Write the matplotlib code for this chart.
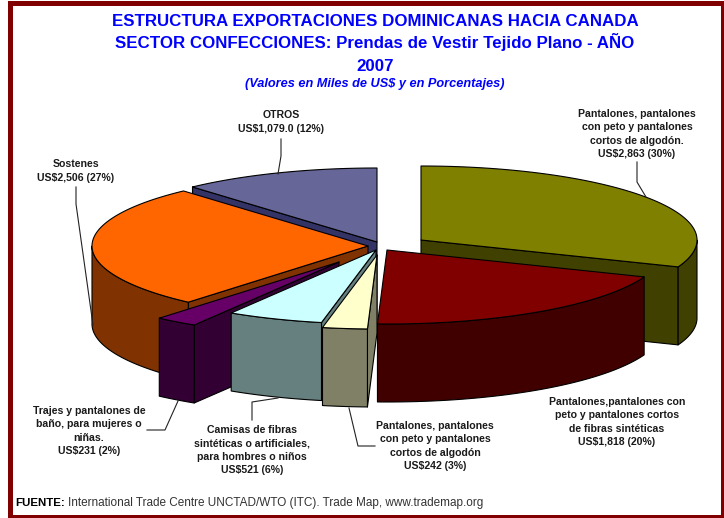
import numpy as np
import matplotlib
matplotlib.use("Agg")
import matplotlib.pyplot as plt
from matplotlib.patches import Polygon, Rectangle

plt.rcParams['font.family'] = ['Liberation Sans', 'DejaVu Sans']

# valores en miles de US$, en sentido horario desde las 12
valores = [2863, 1818, 242, 521, 231, 2506, 1079]
etiquetas = [
    "Pantalones, pantalones\ncon peto y pantalones\ncortos de algodón.\nUS$2,863 (30%)",
    "Pantalones,pantalones con\npeto y pantalones cortos\nde fibras sintéticas\nUS$1,818 (20%)",
    "Pantalones, pantalones\ncon peto y pantalones\ncortos de algodón\nUS$242 (3%)",
    "Camisas de fibras\nsintéticas o artificiales,\npara hombres o niños\nUS$521 (6%)",
    "Trajes y pantalones de\nbaño, para mujeres o\nniñas.\nUS$231 (2%)",
    "Sostenes\nUS$2,506 (27%)",
    "OTROS\nUS$1,079.0 (12%)",
]
titulo = ["ESTRUCTURA EXPORTACIONES DOMINICANAS HACIA CANADA",
          "SECTOR CONFECCIONES: Prendas de Vestir Tejido Plano - AÑO",
          "2007"]
subtitulo = "(Valores en Miles de US$ y en Porcentajes)"

colores = ["#808000", "#800000", "#FFFFCC", "#CCFFFF", "#660066", "#FF6600", "#666699"]
laterales = ["#404000", "#400000", "#808066", "#668080", "#330033", "#803300", "#333366"]
# vértice de cada porción (con el desplazamiento de la explosión)
centros = [(421, 240), (387, 250), (377, 255), (376, 250), (339, 262), (368, 246), (377, 242)]
pos_etiqueta = [(637, 134), (617, 422), (435, 446), (252, 450), (89, 431), (76, 171), (281, 122)]
guias = [
    [(637, 162), (637, 182), (646, 197)],
    [],
    [(349, 408), (358, 446), (375, 446)],
    [(252, 420), (252, 402), (278, 398)],
    [(147, 430), (165, 430), (178, 401)],
    [(76, 187), (76, 204), (93, 325)],
    [(281, 139), (281, 156), (278, 174)],
]
orden = [6, 5, 0, 1, 4, 3, 2]  # de atrás hacia adelante

RX = 276
RY = 74
ALTO = 78


def punto(c, ang):
    return c[0] + RX * np.sin(ang), c[1] - RY * np.cos(ang)


def poligono(ax, pts, color):
    ax.add_patch(Polygon(pts, closed=True, facecolor=color, edgecolor="black",
                         linewidth=0.8, joinstyle="round"))


fig = plt.figure(figsize=(7.24, 5.18), dpi=100)
ax = fig.add_axes([0, 0, 1, 1])
ax.set_xlim(0, 724)
ax.set_ylim(518, 0)
ax.axis("off")

# marco
ax.add_patch(Rectangle((9.5, 3), 713, 513.5, fill=False, edgecolor="#800000", linewidth=3.6))

angulos = np.concatenate([[0], np.cumsum(valores) / np.sum(valores) * 2 * np.pi])

for i in orden:
    c = centros[i]
    a1, a2 = angulos[i], angulos[i + 1]
    p1 = punto(c, a1)
    p2 = punto(c, a2)
    # caras radiales visibles
    if np.sin(a1) < -1e-6:
        poligono(ax, [c, p1, (p1[0], p1[1] + ALTO), (c[0], c[1] + ALTO)], laterales[i])
    if np.sin(a2) > 1e-6:
        poligono(ax, [c, p2, (p2[0], p2[1] + ALTO), (c[0], c[1] + ALTO)], laterales[i])
    # cara exterior, solo la parte delantera
    ini, fin = max(a1, np.pi / 2), min(a2, 3 * np.pi / 2)
    if fin > ini:
        t = np.linspace(ini, fin, 80)
        x = c[0] + RX * np.sin(t)
        y = c[1] - RY * np.cos(t)
        arco = list(zip(x, y)) + list(zip(x[::-1], y[::-1] + ALTO))
        poligono(ax, arco, laterales[i])
    # cara superior
    t = np.linspace(a1, a2, 120)
    poligono(ax, [c] + list(zip(c[0] + RX * np.sin(t), c[1] - RY * np.cos(t))), colores[i])

# etiquetas y guías
for i in range(len(valores)):
    ax.text(pos_etiqueta[i][0], pos_etiqueta[i][1], etiquetas[i], ha="center", va="center",
            fontsize=7.6, fontweight="bold", color="#1a1a1a", linespacing=1.42)
    if guias[i]:
        ax.plot([p[0] for p in guias[i]], [p[1] for p in guias[i]], color="#222222", linewidth=0.8)

# títulos
for texto, y in zip(titulo, [26, 48, 71]):
    ax.text(375, y, texto, ha="center", va="baseline", fontsize=12.15, fontweight="bold", color="#0000FF")
ax.text(375, 87, subtitulo, ha="center", va="baseline", fontsize=9.2, fontweight="bold",
        style="italic", color="#0000FF")

ax.text(15, 503, "FUENTE:", ha="left", va="center", fontsize=8.25, fontweight="bold", color="black")
ax.text(68, 503, "International Trade Centre UNCTAD/WTO (ITC). Trade Map, www.trademap.org",
        ha="left", va="center", fontsize=8.5, color="#333333")

fig.savefig("out.png", dpi=100)
